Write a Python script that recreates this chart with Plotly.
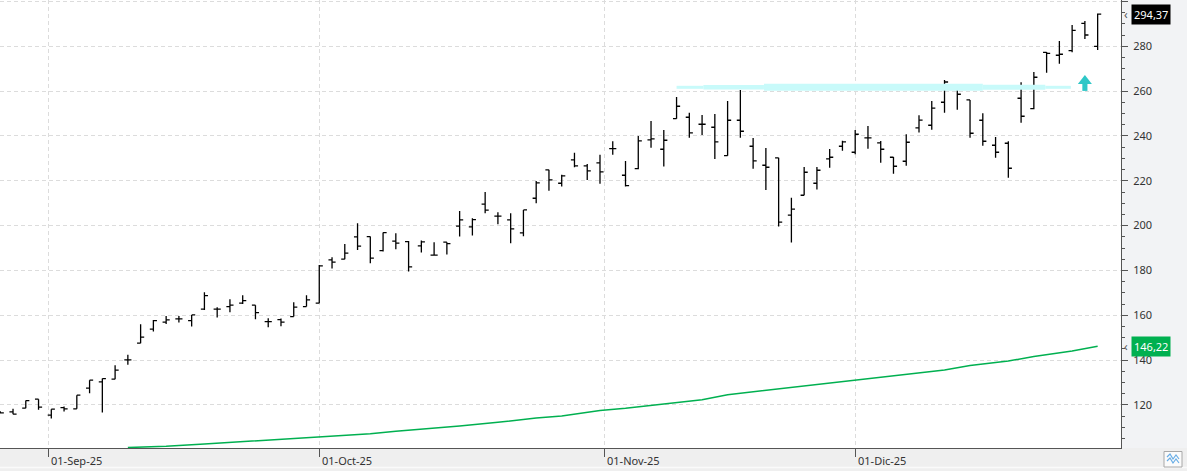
import pandas as pd
import plotly.graph_objects as go

# ---------------- data ----------------
holidays = ["2025-09-01", "2025-11-27", "2025-12-25"]
dates = [d for d in pd.bdate_range("2025-08-26", "2025-12-29")
         if d.strftime("%Y-%m-%d") not in holidays]

opens = [116.8, 116.93, 118.58, 122.59, 115.46, 118.84, 118.26, 127.50, 130.30, 131.51,
         140.12, 147.56, 153.80, 156.93, 158.40, 157.64, 162.72, 162.72, 163.88, 165.40,
         164.51, 157.19, 158.09, 159.42, 163.88, 165.40, 184.71, 185.02, 194.96, 195.10,
         188.86, 193.05, 192.87, 190.95, 186.80, 192.60, 199.74, 199.43, 209.55, 204.20,
         202.54, 196.75, 212.22, 224.84, 218.91, 229.30, 226.63, 227.96, 234.34, 222.48,
         225.42, 238.22, 234.07, 247.72, 248.34, 245.22, 243.88, 231.22, 247.01, 235.41,
         226.94, 230.19, 204.64, 213.56, 218.91, 229.75, 235.41, 232.73, 239.11, 236.88,
         230.50, 228.72, 243.57, 244.77, 255.03, 261.72, 256.06, 247.01, 235.86, 236.75,
         256.82, 252.18, 277.33, 276.00, 278.04, 290.26, 280.00]
highs = [117.2, 118.26, 121.97, 122.59, 118.13, 119.29, 124.37, 131.06, 131.77, 137.75,
         142.35, 156.03, 157.95, 159.74, 159.74, 160.18, 170.31, 163.61, 167.18, 168.97,
         164.51, 158.71, 158.53, 165.85, 168.97, 182.48, 185.91, 191.84, 201.08, 195.10,
         196.88, 196.61, 193.18, 193.31, 192.60, 192.60, 206.56, 203.30, 215.03, 205.98,
         205.53, 207.00, 219.94, 224.97, 222.75, 232.56, 227.52, 231.66, 237.64, 228.86,
         240.00, 246.69, 242.68, 257.39, 250.39, 249.37, 249.81, 255.61, 260.52, 239.11,
         234.65, 230.33, 212.49, 226.18, 226.18, 234.21, 237.91, 242.68, 244.46, 237.77,
         230.64, 240.76, 249.28, 255.61, 264.98, 263.06, 256.06, 250.13, 239.56, 237.64,
         263.95, 268.54, 277.46, 282.37, 289.50, 291.29, 294.60]
lows = [116.2, 115.9, 118.58, 117.82, 113.94, 117.06, 118.26, 125.27, 116.62, 131.51,
        137.89, 147.56, 152.73, 156.17, 156.75, 154.96, 162.41, 158.98, 161.39, 165.09,
        158.27, 154.70, 155.14, 159.42, 163.88, 165.40, 180.83, 185.02, 189.17, 183.24,
        188.41, 189.48, 179.49, 187.96, 186.63, 187.07, 195.10, 195.55, 205.53, 200.63,
        192.15, 195.28, 210.00, 215.61, 217.40, 226.05, 220.38, 218.73, 231.66, 217.40,
        225.15, 234.79, 226.32, 247.72, 239.24, 240.45, 229.75, 231.22, 239.24, 225.42,
        215.92, 199.56, 192.42, 213.56, 216.06, 225.87, 233.45, 231.84, 234.34, 228.10,
        223.19, 226.76, 241.56, 242.77, 250.39, 251.73, 239.24, 235.68, 230.33, 221.41,
        245.93, 251.91, 268.23, 272.24, 277.33, 283.26, 278.35]
closes = [116.5, 115.9, 121.97, 119.03, 118.13, 118.26, 124.37, 131.06, 131.77, 135.52,
          140.12, 150.24, 157.64, 157.95, 158.40, 160.18, 168.79, 162.72, 164.51, 166.56,
          161.21, 157.19, 156.93, 163.61, 166.87, 182.03, 183.68, 187.70, 190.82, 185.47,
          196.88, 192.16, 181.59, 192.73, 186.80, 191.98, 202.54, 202.68, 206.87, 204.20,
          198.53, 207.00, 219.04, 220.38, 222.17, 226.63, 224.40, 223.95, 234.34, 217.84,
          237.77, 238.67, 238.09, 253.25, 241.34, 245.22, 237.33, 247.01, 242.10, 228.86,
          226.05, 201.52, 207.32, 223.82, 224.71, 230.50, 237.33, 240.76, 239.11, 234.07,
          226.49, 237.19, 247.05, 252.40, 264.08, 258.60, 241.21, 237.64, 232.73, 225.60,
          248.79, 266.18, 276.88, 276.44, 287.14, 285.04, 294.37]

# moving average read at selected bars (bar index -> value)
ma_idx = [10, 13, 16, 18, 21, 25, 29, 31, 34, 36, 39, 42, 44, 47, 49, 52, 55, 57, 60,
          63, 66, 67, 71, 74, 76, 79, 81, 84, 86]
ma_val = [101.0, 101.6, 102.6, 103.35, 104.35, 105.7, 107.15, 108.25, 109.5, 110.65,
          112.25, 114.2, 115.1, 117.5, 118.5, 120.4, 122.3, 124.6, 126.5, 128.4, 130.3,
          130.9, 133.7, 135.6, 137.6, 139.6, 141.6, 144.1, 146.22]

resist_level = 261.7
resist_idx = [53, 55.1, 59.85, 77.0, 81.9, 83.9]
resist_w = [3, 4.5, 7, 5, 3]

signal_idx = 85
signal_head = [263.2, 267.2]
signal_stem = [260.1, 263.2]

month_starts = ["2025-09-01", "2025-10-01", "2025-11-01", "2025-12-01"]
month_labels = ["01-Sep-25", "01-Oct-25", "01-Nov-25", "01-Dic-25"]

last_close_label = "294,37"
ma_label = "146,22"

# ---------------- layout constants ----------------
W, H = 1187, 471
PLOT_W, PLOT_H = 1121, 448
Y_RANGE = [100.8, 300.65]
X_RANGE = [-0.02, 87.83]
GREEN = "#00b050"
AX = "#555555"
TXT = "#333333"
FONT = "Noto Sans"

x = list(range(len(dates)))

# fractional tick positions for month starts (calendar interpolation)
def month_pos(ms):
    m = pd.Timestamp(ms)
    for k, d in enumerate(dates):
        if d == m:
            return float(k)
        if d > m:
            p = dates[k - 1]
            return (k - 1) + (m - p).days / (d - p).days
    return float(len(dates) - 1)

tickpos = [month_pos(m) for m in month_starts]

fig = go.Figure()

# resistance band
for j in range(len(resist_w)):
    fig.add_trace(go.Scatter(
        x=[resist_idx[j], resist_idx[j + 1]], y=[resist_level, resist_level],
        mode="lines", line=dict(color="#c8fafa", width=resist_w[j]),
        hoverinfo="skip", showlegend=False))

# moving average
fig.add_trace(go.Scatter(x=ma_idx, y=ma_val, mode="lines",
                         line=dict(color=GREEN, width=1.5),
                         hoverinfo="skip", showlegend=False))

# OHLC bars
fig.add_trace(go.Ohlc(
    x=x, open=opens, high=highs, low=lows, close=closes,
    increasing=dict(line=dict(color="black", width=1.3)),
    decreasing=dict(line=dict(color="black", width=1.3)),
    tickwidth=0.28, showlegend=False, hoverinfo="skip"))

shapes = []
# signal arrow
hw, sw = 0.55, 0.2
shapes.append(dict(type="path", xref="x", yref="y",
                   path=f"M {signal_idx-hw},{signal_head[0]} L {signal_idx+hw},{signal_head[0]} "
                        f"L {signal_idx},{signal_head[1]} Z",
                   fillcolor="#2ec7c7", line=dict(width=0), layer="above"))
shapes.append(dict(type="rect", xref="x", yref="y",
                   x0=signal_idx - sw, x1=signal_idx + sw,
                   y0=signal_stem[0], y1=signal_stem[1],
                   fillcolor="#2ec7c7", line=dict(width=0), layer="above"))
# bottom band
band_y0 = -(H - PLOT_H) / PLOT_H
shapes.append(dict(type="rect", xref="paper", yref="paper",
                   x0=0, x1=W / PLOT_W, y0=band_y0, y1=0,
                   fillcolor="#efefef", line=dict(width=0), layer="below"))
shapes.append(dict(type="line", xref="paper", yref="paper",
                   x0=0, x1=W / PLOT_W, y0=-19.5 / PLOT_H, y1=-19.5 / PLOT_H,
                   line=dict(color="#fafafa", width=1.5), layer="below"))
# small icon box bottom-right
shapes.append(dict(type="rect", xref="paper", yref="paper",
                   x0=1164 / PLOT_W, x1=1182 / PLOT_W,
                   y0=-19 / PLOT_H, y1=-3.5 / PLOT_H,
                   fillcolor="#fbfbfb", line=dict(color="#a8a8a8", width=1), layer="below"))
shapes.append(dict(type="path", xref="paper", yref="paper",
                   path=" ".join(
                       f"{'M' if k == 0 else 'L'} {px / PLOT_W},{-py / PLOT_H}"
                       for k, (px, py) in enumerate([(1167, 9), (1170, 6), (1173, 11),
                                                     (1176, 7), (1179, 11)])),
                   line=dict(color="#6aaee6", width=1.2), layer="below"))
shapes.append(dict(type="path", xref="paper", yref="paper",
                   path=" ".join(
                       f"{'M' if k == 0 else 'L'} {px / PLOT_W},{-py / PLOT_H}"
                       for k, (px, py) in enumerate([(1167, 13), (1170, 10), (1173, 15),
                                                     (1176, 11), (1179, 15)])),
                   line=dict(color="#6aaee6", width=1.2), layer="below"))

annotations = []
for tp, lab in zip(tickpos, month_labels):
    annotations.append(dict(x=tp, y=-12.5 / PLOT_H, xref="x", yref="paper",
                            text=lab, showarrow=False, xanchor="left", yanchor="middle",
                            xshift=1, font=dict(family=FONT, size=11, color=TXT)))

lab_x = 1 + 10 / PLOT_W
annotations.append(dict(x=lab_x, y=closes[-1], xref="paper", yref="y",
                        text=last_close_label, showarrow=False, xanchor="left",
                        yanchor="middle", bgcolor="#000000", borderpad=2,
                        font=dict(family=FONT, size=11, color="white")))
annotations.append(dict(x=lab_x, y=ma_val[-1], xref="paper", yref="y",
                        text=ma_label, showarrow=False, xanchor="left",
                        yanchor="middle", bgcolor=GREEN, borderpad=2,
                        font=dict(family=FONT, size=11, color="white")))
for yy in [closes[-1], ma_val[-1]]:
    annotations.append(dict(x=1 + 1.5 / PLOT_W, y=yy, xref="paper", yref="y",
                            text="‹", showarrow=False, xanchor="left", yanchor="middle",
                            font=dict(family=FONT, size=12, color="#555555")))

fig.update_layout(
    width=W, height=H,
    margin=dict(l=0, r=W - PLOT_W, t=0, b=H - PLOT_H, pad=0),
    paper_bgcolor="#f2f3f5", plot_bgcolor="white",
    showlegend=False, hovermode=False,
    shapes=shapes, annotations=annotations,
    xaxis=dict(range=X_RANGE, tickmode="array", tickvals=tickpos,
               showticklabels=False, ticks="outside", ticklen=8, tickcolor=AX,
               showline=True, linecolor=AX, linewidth=1,
               showgrid=True, gridcolor="#dcdcdc", griddash="4px,3px", gridwidth=1,
               zeroline=False, rangeslider=dict(visible=False), fixedrange=True),
    yaxis=dict(range=Y_RANGE, side="right", tick0=0, dtick=20,
               ticks="outside", ticklen=6, tickcolor=AX,
               minor=dict(dtick=5, tick0=0, ticks="outside", ticklen=3,
                          tickcolor=AX, showgrid=False),
               showline=True, linecolor=AX, linewidth=1,
               showgrid=True, gridcolor="#dcdcdc", griddash="4px,3px", gridwidth=1,
               zeroline=False, tickfont=dict(family=FONT, size=11, color=TXT),
               ticklabelstandoff=3, fixedrange=True),
)

fig.write_html("out.html")
